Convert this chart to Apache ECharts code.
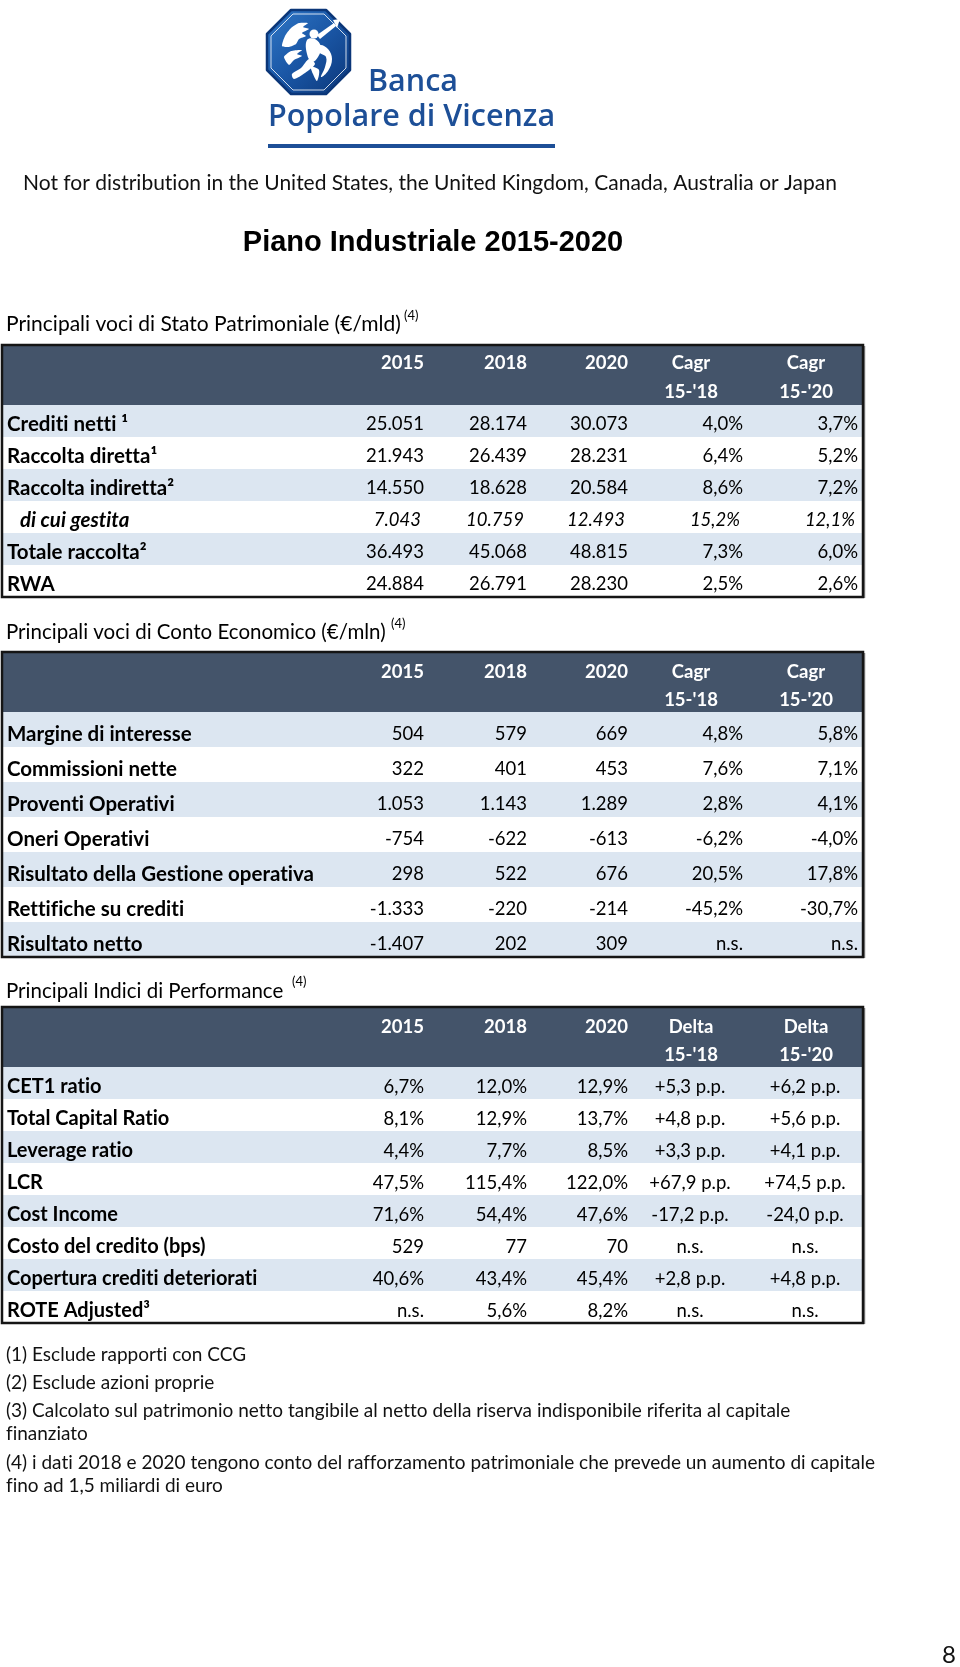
<!DOCTYPE html>
<html><head><meta charset="utf-8">
<script src="https://cdn.jsdelivr.net/npm/echarts@6/dist/echarts.min.js"></script>
<style>html,body{margin:0;padding:0;background:#fff}#c{width:960px;height:1667px}</style>
</head><body><div id="c"></div>
<script>
// Disable typographic ligatures (Lato "ti"/"tt") in canvas text
(function () {
  const P = CanvasRenderingContext2D.prototype;
  const of = P.fillText, om = P.measureText;
  P.fillText = function () { try { this.textRendering = 'optimizeSpeed'; } catch (e) {} return of.apply(this, arguments); };
  P.measureText = function () { try { this.textRendering = 'optimizeSpeed'; } catch (e) {} return om.apply(this, arguments); };
})();

// ---------- DATA ----------
// Stato Patrimoniale (€/mld)
const spLabels = ['Crediti netti ¹', 'Raccolta diretta¹', 'Raccolta indiretta²', 'di cui gestita', 'Totale raccolta²', 'RWA'];
const sp2015 = [25051, 21943, 14550, 7043, 36493, 24884];
const sp2018 = [28174, 26439, 18628, 10759, 45068, 26791];
const sp2020 = [30073, 28231, 20584, 12493, 48815, 28230];
const spCagr18 = [4.0, 6.4, 8.6, 15.2, 7.3, 2.5];
const spCagr20 = [3.7, 5.2, 7.2, 12.1, 6.0, 2.6];

// Conto Economico (€/mln)
const ceLabels = ['Margine di interesse', 'Commissioni nette', 'Proventi Operativi', 'Oneri Operativi', 'Risultato della Gestione operativa', 'Rettifiche su crediti', 'Risultato netto'];
const ce2015 = [504, 322, 1053, -754, 298, -1333, -1407];
const ce2018 = [579, 401, 1143, -622, 522, -220, 202];
const ce2020 = [669, 453, 1289, -613, 676, -214, 309];
const ceCagr18 = [4.8, 7.6, 2.8, -6.2, 20.5, -45.2, null];
const ceCagr20 = [5.8, 7.1, 4.1, -4.0, 17.8, -30.7, null];

// Indici di Performance
const kpiLabels = ['CET1 ratio', 'Total Capital Ratio', 'Leverage ratio', 'LCR', 'Cost Income', 'Costo del credito (bps)', 'Copertura crediti deteriorati', 'ROTE Adjusted³'];
const kpiUnits = ['%', '%', '%', '%', '%', 'bps', '%', '%'];
const kpi2015 = [6.7, 8.1, 4.4, 47.5, 71.6, 529, 40.6, null];
const kpi2018 = [12.0, 12.9, 7.7, 115.4, 54.4, 77, 43.4, 5.6];
const kpi2020 = [12.9, 13.7, 8.5, 122.0, 47.6, 70, 45.4, 8.2];
const kpiDelta18 = [5.3, 4.8, 3.3, 67.9, -17.2, null, 2.8, null];
const kpiDelta20 = [6.2, 5.6, 4.1, 74.5, -24.0, null, 4.8, null];

// Header labels
const yearHeads = ['2015', '2018', '2020'];
const cagrHeads = ['Cagr', 'Cagr'];
const deltaHeads = ['Delta', 'Delta'];
const periodHeads = ["15-'18", "15-'20"];

// Texts
const logoLine1 = 'Banca';
const logoLine2 = 'Popolare di Vicenza';
const disclaimer = 'Not for distribution in the United States, the United Kingdom, Canada, Australia or Japan';
const mainTitle = 'Piano Industriale 2015-2020';
const sectionTitles = ['Principali voci di Stato Patrimoniale (€/mld)', 'Principali voci di Conto Economico (€/mln)', 'Principali Indici di Performance'];
const footnotes = [
  '(1) Esclude rapporti con CCG',
  '(2) Esclude azioni proprie',
  '(3) Calcolato sul patrimonio netto tangibile al netto della riserva indisponibile riferita al capitale',
  'finanziato',
  '(4) i dati 2018 e 2020 tengono conto del rafforzamento patrimoniale che prevede un aumento di capitale',
  'fino ad 1,5 miliardi di euro'
];
const pageNumber = '8';

// ---------- FORMATTERS ----------
function fmtNum(v) {
  if (v === null || v === undefined) return 'n.s.';
  const s = Math.abs(v).toString().replace(/\B(?=(\d{3})+(?!\d))/g, '.');
  return (v < 0 ? '-' : '') + s;
}
function fmtPct(v) {
  if (v === null || v === undefined) return 'n.s.';
  return v.toFixed(1).replace('.', ',') + '%';
}
function fmtPP(v) {
  if (v === null || v === undefined) return 'n.s.';
  return (v > 0 ? '+' : '') + v.toFixed(1).replace('.', ',') + ' p.p.';
}
function fmtKpi(v, i) { return kpiUnits[i] === 'bps' ? fmtNum(v) : fmtPct(v); }

// ---------- FONT FITTING ----------
const FONT = 'Lato';
const mctx = document.createElement('canvas').getContext('2d');
function fit(text, weight, family, target, style) {
  mctx.font = (style || 'normal') + ' ' + weight + ' 100px "' + family + '"';
  const w = mctx.measureText(text).width;
  return Math.round(100 * target / w * 2) / 2;
}
const labelFS = fit('Risultato della Gestione operativa', 'bold', FONT, 306);
const label3FS = fit('Copertura crediti deteriorati', 'bold', FONT, 252);
const valFS = fit('25.051', 'normal', FONT, 58);
const headFS = fit('2015', 'bold', FONT, 43);
const secFS = [fit(sectionTitles[0], 'normal', FONT, 391), fit(sectionTitles[1], 'normal', FONT, 376), fit(sectionTitles[2], 'normal', FONT, 278)];
const noteFS = fit(footnotes[2], 'normal', FONT, 781);
const discFS = fit(disclaimer, 'normal', FONT, 819);
const titleFS = fit(mainTitle, 'bold', 'Liberation Sans', 378);
const logoFS = fit(logoLine2, '600', 'Open Sans', 287);

const ROW_BLUE = '#DCE6F1';
const HEAD_BG = '#44546A';
const LOGO_BLUE = '#1D4F97';

// ---------- TABLE LAYOUT ----------
const rightCols = [424, 527, 628, 743, 858];
const tables = [
  {
    labels: spLabels, italicRows: [3], labelFS: labelFS, dy: 3,
    top: 345, headBottom: 405, bottom: 597, hy1: 363, hy2: 392, secY: 324, supX: 404, supY: 316,
    heads2: cagrHeads,
    cols: [
      { vals: sp2015, fmt: fmtNum, x: rightCols[0], align: 'right' },
      { vals: sp2018, fmt: fmtNum, x: rightCols[1], align: 'right' },
      { vals: sp2020, fmt: fmtNum, x: rightCols[2], align: 'right' },
      { vals: spCagr18, fmt: fmtPct, x: rightCols[3], align: 'right' },
      { vals: spCagr20, fmt: fmtPct, x: rightCols[4], align: 'right' }
    ]
  },
  {
    labels: ceLabels, italicRows: [], labelFS: labelFS, dy: 5,
    top: 652, headBottom: 712, bottom: 957, hy1: 672, hy2: 700, secY: 632, supX: 391, supY: 624,
    heads2: cagrHeads,
    cols: [
      { vals: ce2015, fmt: fmtNum, x: rightCols[0], align: 'right' },
      { vals: ce2018, fmt: fmtNum, x: rightCols[1], align: 'right' },
      { vals: ce2020, fmt: fmtNum, x: rightCols[2], align: 'right' },
      { vals: ceCagr18, fmt: fmtPct, x: rightCols[3], align: 'right' },
      { vals: ceCagr20, fmt: fmtPct, x: rightCols[4], align: 'right' }
    ]
  },
  {
    labels: kpiLabels, italicRows: [], labelFS: label3FS, dy: 4,
    top: 1007, headBottom: 1067, bottom: 1323, hy1: 1027, hy2: 1055, secY: 991, supX: 292, supY: 982,
    heads2: deltaHeads,
    cols: [
      { vals: kpi2015, fmt: fmtKpi, x: rightCols[0], align: 'right' },
      { vals: kpi2018, fmt: fmtKpi, x: rightCols[1], align: 'right' },
      { vals: kpi2020, fmt: fmtKpi, x: rightCols[2], align: 'right' },
      { vals: kpiDelta18, fmt: fmtPP, x: 690, align: 'center' },
      { vals: kpiDelta20, fmt: fmtPP, x: 805, align: 'center' }
    ]
  }
];
const TBL_L = 2, TBL_R = 863;
const headCenters = [691, 806];

function makeRender(t) {
  return function (params, api) {
    const i = api.value(1);
    const pt = api.coord([0, i]);
    const bh = api.size([0, 1])[1];
    const cs = params.coordSys;
    const cy = pt[1] + t.dy;
    const it = t.italicRows.indexOf(i) >= 0;
    const kids = [{
      type: 'rect',
      shape: { x: cs.x, y: pt[1] - bh / 2, width: cs.width, height: bh },
      style: { fill: i % 2 === 0 ? ROW_BLUE : '#FFFFFF' }
    }, {
      type: 'text',
      style: {
        text: t.labels[i], x: cs.x + (it ? 18 : 5), y: cy, align: 'left', verticalAlign: 'middle',
        fontFamily: FONT, fontWeight: 'bold', fontStyle: it ? 'italic' : 'normal', fontSize: t.labelFS, fill: '#000'
      }
    }];
    t.cols.forEach(function (c) {
      kids.push({
        type: 'text',
        style: {
          text: c.fmt(c.vals[i], i), x: c.x - (it && c.align === 'right' ? 3 : 0), y: cy,
          align: c.align, verticalAlign: 'middle', fontFamily: FONT, fontWeight: 'normal',
          fontStyle: it ? 'italic' : 'normal', fontSize: valFS, fill: '#000'
        }
      });
    });
    return { type: 'group', children: kids };
  };
}

const grids = [], xAxes = [], yAxes = [], series = [];
tables.forEach(function (t, k) {
  grids.push({ left: TBL_L, top: t.headBottom, width: TBL_R - TBL_L, height: t.bottom - t.headBottom, containLabel: false, show: false });
  xAxes.push({ type: 'value', gridIndex: k, min: 0, max: 1, show: false });
  yAxes.push({ type: 'category', gridIndex: k, data: t.labels, inverse: true, show: false, boundaryGap: true });
  series.push({
    type: 'custom', xAxisIndex: k, yAxisIndex: k, silent: true, animation: false, clip: false,
    encode: { x: 0, y: 1 },
    data: t.labels.map(function (_, i) { return [0, i]; }),
    renderItem: makeRender(t)
  });
});

// ---------- GRAPHIC (logo, titles, headers, borders, notes) ----------
const g = [];
// logo octagon
const ox = 267, oy = 10, ow = 83, oh = 84, a = 24;
function octa(x0, y0, w, h, c) {
  return [[x0 + c, y0], [x0 + w - c, y0], [x0 + w, y0 + c], [x0 + w, y0 + h - c], [x0 + w - c, y0 + h], [x0 + c, y0 + h], [x0, y0 + h - c], [x0, y0 + c]];
}
g.push({
  type: 'polygon', z: 50, shape: { points: octa(ox, oy, ow, oh, a) },
  style: {
    fill: new echarts.graphic.LinearGradient(0, 0, 1, 1, [{ offset: 0, color: '#3079C8' }, { offset: 0.5, color: '#1A56A5' }, { offset: 1, color: '#0B3678' }]),
    stroke: '#0B3678', lineWidth: 2.5, lineJoin: 'round'
  }
});
g.push({
  type: 'polygon', z: 51, shape: { points: octa(ox + 4, oy + 4, ow - 8, oh - 8, a - 2) },
  style: { fill: null, stroke: 'rgba(255,255,255,0.8)', lineWidth: 1 }
});
// stylised angel with trumpet (white)
const angelShapes = [
  { pts: [[15, 36], [18, 26], [24, 18], [32, 13], [41, 13], [36, 17], [42, 19], [35, 23], [39, 26], [32, 29], [29, 34], [22, 37]], smooth: 0.2 },
  { pts: [[17, 47], [24, 41], [35, 40], [30, 44], [35, 46], [27, 50], [22, 55]], smooth: 0.2 },
  { pts: [[40, 30], [48, 29], [54, 37], [51, 47], [45, 52], [40, 44]], smooth: 0.4 },
  { pts: [[50, 25], [67, 13], [69, 16], [53, 29]], smooth: 0 },
  { pts: [[66, 10], [73, 9], [70, 18]], smooth: 0 },
  { pts: [[53, 35], [61, 39], [65, 49], [61, 61], [54, 67], [58, 57], [59, 47], [52, 42]], smooth: 0.4 },
  { pts: [[42, 49], [34, 58], [25, 64], [27, 69], [38, 63], [48, 54]], smooth: 0.3 },
  { pts: [[44, 57], [52, 60], [50, 71], [46, 64]], smooth: 0.3 }
];
angelShapes.forEach(function (s) {
  g.push({ type: 'polygon', z: 52, x: ox, y: oy, shape: { points: s.pts, smooth: s.smooth }, style: { fill: '#FFFFFF' } });
});
g.push({ type: 'circle', z: 52, shape: { cx: ox + 47, cy: oy + 24, r: 4.5 }, style: { fill: '#FFFFFF' } });
// logo texts
g.push({ type: 'text', z: 50, style: { text: logoLine1, x: 368, y: 82, align: 'left', verticalAlign: 'middle', fontFamily: 'Open Sans', fontWeight: 600, fontSize: logoFS, fill: LOGO_BLUE } });
g.push({ type: 'text', z: 50, style: { text: logoLine2, x: 268, y: 117, align: 'left', verticalAlign: 'middle', fontFamily: 'Open Sans', fontWeight: 600, fontSize: logoFS, fill: LOGO_BLUE } });
g.push({ type: 'rect', z: 50, shape: { x: 268, y: 144, width: 287, height: 4 }, style: { fill: LOGO_BLUE } });

// disclaimer & title
g.push({ type: 'text', z: 50, style: { text: disclaimer, x: 23, y: 183, align: 'left', verticalAlign: 'middle', fontFamily: FONT, fontSize: discFS, fill: '#111' } });
g.push({ type: 'text', z: 50, style: { text: mainTitle, x: 433, y: 243, align: 'center', verticalAlign: 'middle', fontFamily: 'Liberation Sans', fontWeight: 'bold', fontSize: titleFS, fill: '#000' } });

// tables: section titles, headers, borders
tables.forEach(function (t, k) {
  g.push({ type: 'text', z: 50, style: { text: sectionTitles[k], x: 6, y: t.secY, align: 'left', verticalAlign: 'middle', fontFamily: FONT, fontSize: secFS[k], fill: '#000' } });
  g.push({ type: 'text', z: 50, style: { text: '(4)', x: t.supX, y: t.supY, align: 'left', verticalAlign: 'middle', fontFamily: FONT, fontSize: Math.round(secFS[k] * 0.62), fill: '#000' } });
  g.push({ type: 'rect', z: 50, shape: { x: TBL_L, y: t.top, width: TBL_R - TBL_L, height: t.headBottom - t.top }, style: { fill: HEAD_BG } });
  yearHeads.forEach(function (h, j) {
    g.push({ type: 'text', z: 51, style: { text: h, x: rightCols[j], y: t.hy1, align: 'right', verticalAlign: 'middle', fontFamily: FONT, fontWeight: 'bold', fontSize: headFS, fill: '#FFFFFF' } });
  });
  t.heads2.forEach(function (h, j) {
    g.push({ type: 'text', z: 51, style: { text: h, x: headCenters[j], y: t.hy1, align: 'center', verticalAlign: 'middle', fontFamily: FONT, fontWeight: 'bold', fontSize: headFS, fill: '#FFFFFF' } });
    g.push({ type: 'text', z: 51, style: { text: periodHeads[j], x: headCenters[j], y: t.hy2, align: 'center', verticalAlign: 'middle', fontFamily: FONT, fontWeight: 'bold', fontSize: headFS, fill: '#FFFFFF' } });
  });
  g.push({ type: 'line', z: 60, shape: { x1: TBL_R + 1.5, y1: t.top + 1, x2: TBL_R + 1.5, y2: t.bottom + 1 }, style: { stroke: '#888', lineWidth: 1.5 } });
  g.push({ type: 'rect', z: 61, shape: { x: TBL_L, y: t.top, width: TBL_R - TBL_L, height: t.bottom - t.top }, style: { fill: null, stroke: '#151515', lineWidth: 2.5 } });
});

// footnotes
const noteYs = [1355, 1383, 1411, 1434, 1463, 1486];
footnotes.forEach(function (n, i) {
  g.push({ type: 'text', z: 50, style: { text: n, x: 6, y: noteYs[i], align: 'left', verticalAlign: 'middle', fontFamily: FONT, fontSize: noteFS, fill: '#111' } });
});
g.push({ type: 'text', z: 50, style: { text: pageNumber, x: 956, y: 1655, align: 'right', verticalAlign: 'middle', fontFamily: FONT, fontSize: 24, fill: '#111' } });

const chart = echarts.init(document.getElementById('c'), null, { renderer: 'canvas', width: 960, height: 1667 });
chart.setOption({
  backgroundColor: '#FFFFFF',
  animation: false,
  grid: grids,
  xAxis: xAxes,
  yAxis: yAxes,
  series: series,
  graphic: { elements: g }
});
</script></body></html>
